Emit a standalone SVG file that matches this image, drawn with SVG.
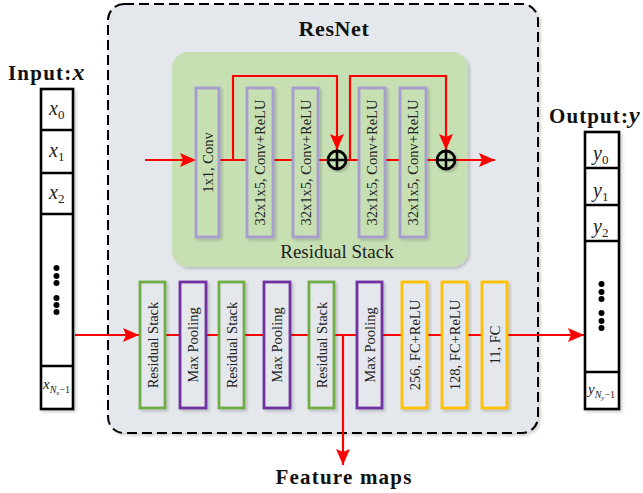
<svg xmlns="http://www.w3.org/2000/svg" width="643" height="493" viewBox="0 0 643 493">
<style>
.lbl{font-family:"Liberation Serif","Times New Roman",serif;font-size:14.5px;fill:#222;text-anchor:middle}
.title{font-family:"Liberation Serif","Times New Roman",serif;font-weight:bold;fill:#111}
.math{font-family:"Liberation Serif","Times New Roman",serif;font-style:italic;fill:#222}
.red{stroke:#ff0000;stroke-width:2.2;fill:none}
.vbox{stroke-width:2.8}
.lav{stroke:#a89bcf;fill:#c6e0b4}
.grn{stroke:#70ad47;fill:#e4e7eb}
.pur{stroke:#7030a0;fill:#e4e7eb}
.gld{stroke:#ffc000;fill:#e4e7eb}
.cell{fill:#fff;stroke:#000;stroke-width:2.6}
.div{stroke:#000;stroke-width:2.4}
</style>
<defs>
<marker id="ah" markerUnits="userSpaceOnUse" markerWidth="17" markerHeight="15" refX="16" refY="7" orient="auto">
<path d="M0,0 L16,7 L0,14 L3,7 z" fill="#ff0000"/>
</marker>
<filter id="sh" x="-10%" y="-10%" width="130%" height="130%">
<feDropShadow dx="2" dy="2" stdDeviation="1.8" flood-color="#000" flood-opacity="0.18"/>
</filter>
</defs>
<rect width="643" height="493" fill="#fff"/>

<g id="resnet">
<rect x="108" y="4" width="430" height="429" rx="16" fill="#e4e7eb" stroke="#000" stroke-width="2" stroke-dasharray="10,5" filter="url(#sh)"/>
<text class="title" x="334" y="36" font-size="22" letter-spacing="0.6" text-anchor="middle">ResNet</text>
</g>

<g id="residual-stack-detail">
<rect x="172" y="52" width="296" height="215" rx="16" fill="#c6e0b4" filter="url(#sh)"/>
<text x="337" y="258" font-family="'Liberation Serif','Times New Roman',serif" font-size="19" fill="#222" text-anchor="middle">Residual Stack</text>
</g>

<g id="connectors">
<line class="red" x1="145" y1="160" x2="196" y2="160" marker-end="url(#ah)"/>
<line class="red" x1="219" y1="160" x2="328" y2="160"/>
<line class="red" x1="346" y1="160" x2="437" y2="160"/>
<line class="red" x1="455" y1="160" x2="495" y2="160" marker-end="url(#ah)"/>
<polyline class="red" points="233,160 233,76 337,76 337,150" marker-end="url(#ah)"/>
<polyline class="red" points="350,160 350,76 446,76 446,150" marker-end="url(#ah)"/>
<line class="red" x1="75" y1="335" x2="139" y2="335" marker-end="url(#ah)"/>
<line class="red" x1="165" y1="335" x2="507" y2="335"/>
<line class="red" x1="507" y1="335" x2="584" y2="335" marker-end="url(#ah)"/>
<line class="red" x1="343" y1="335" x2="343" y2="465" marker-end="url(#ah)"/>
</g>

<g id="conv1x1"><rect class="vbox lav" x="196" y="88" width="23" height="149" filter="url(#sh)"/><text class="lbl" transform="translate(207.5,162.5) rotate(-90)" dy="0.35em">1x1, Conv</text></g>
<g id="conv2"><rect class="vbox lav" x="247" y="88" width="26" height="149" filter="url(#sh)"/><text class="lbl" transform="translate(260,162.5) rotate(-90)" dy="0.35em">32x1x5, Conv+ReLU</text></g>
<g id="conv3"><rect class="vbox lav" x="293" y="88" width="25" height="149" filter="url(#sh)"/><text class="lbl" transform="translate(305.5,162.5) rotate(-90)" dy="0.35em">32x1x5, Conv+ReLU</text></g>
<g id="conv4"><rect class="vbox lav" x="359" y="88" width="26" height="149" filter="url(#sh)"/><text class="lbl" transform="translate(372,162.5) rotate(-90)" dy="0.35em">32x1x5, Conv+ReLU</text></g>
<g id="conv5"><rect class="vbox lav" x="400" y="88" width="26" height="149" filter="url(#sh)"/><text class="lbl" transform="translate(413,162.5) rotate(-90)" dy="0.35em">32x1x5, Conv+ReLU</text></g>

<g id="add1"><circle cx="337" cy="160" r="9" fill="#c6e0b4" stroke="#000" stroke-width="2.8" filter="url(#sh)"/><path d="M328,160 H346 M337,151 V169" stroke="#000" stroke-width="2.6"/></g>
<g id="add2"><circle cx="446" cy="160" r="9" fill="#c6e0b4" stroke="#000" stroke-width="2.8" filter="url(#sh)"/><path d="M437,160 H455 M446,151 V169" stroke="#000" stroke-width="2.6"/></g>

<g id="rs1"><rect class="vbox grn" x="140" y="282" width="25" height="126" filter="url(#sh)"/><text class="lbl" transform="translate(152.5,345) rotate(-90)" dy="0.35em">Residual Stack</text></g>
<g id="mp1"><rect class="vbox pur" x="180" y="282" width="26" height="126" filter="url(#sh)"/><text class="lbl" transform="translate(193,345) rotate(-90)" dy="0.35em">Max Pooling</text></g>
<g id="rs2"><rect class="vbox grn" x="219" y="282" width="25" height="126" filter="url(#sh)"/><text class="lbl" transform="translate(231.5,345) rotate(-90)" dy="0.35em">Residual Stack</text></g>
<g id="mp2"><rect class="vbox pur" x="264" y="282" width="26" height="126" filter="url(#sh)"/><text class="lbl" transform="translate(277,345) rotate(-90)" dy="0.35em">Max Pooling</text></g>
<g id="rs3"><rect class="vbox grn" x="309" y="282" width="25" height="126" filter="url(#sh)"/><text class="lbl" transform="translate(321.5,345) rotate(-90)" dy="0.35em">Residual Stack</text></g>
<g id="mp3"><rect class="vbox pur" x="357" y="282" width="25" height="126" filter="url(#sh)"/><text class="lbl" transform="translate(369.5,345) rotate(-90)" dy="0.35em">Max Pooling</text></g>
<g id="fc1"><rect class="vbox gld" x="402" y="282" width="25" height="126" filter="url(#sh)"/><text class="lbl" transform="translate(414.5,345) rotate(-90)" dy="0.35em">256, FC+ReLU</text></g>
<g id="fc2"><rect class="vbox gld" x="442" y="282" width="25" height="126" filter="url(#sh)"/><text class="lbl" transform="translate(454.5,345) rotate(-90)" dy="0.35em">128, FC+ReLU</text></g>
<g id="fc3"><rect class="vbox gld" x="482" y="282" width="25" height="126" filter="url(#sh)"/><text class="lbl" transform="translate(494.5,345) rotate(-90)" dy="0.35em">11, FC</text></g>

<g id="input">
<text class="title" x="8" y="80" font-size="21" letter-spacing="1.2">Input:<tspan font-style="italic" font-size="24">x</tspan></text>
<rect class="cell" x="41" y="89" width="32" height="320" filter="url(#sh)"/>
<path class="div" d="M41,130 H73 M41,173 H73 M41,214 H73 M41,366 H73"/>
<text class="math" x="49" y="115" font-size="20">x<tspan font-style="normal" font-size="13" dy="4">0</tspan></text>
<text class="math" x="49" y="157" font-size="20">x<tspan font-style="normal" font-size="13" dy="4">1</tspan></text>
<text class="math" x="49" y="199" font-size="20">x<tspan font-style="normal" font-size="13" dy="4">2</tspan></text>
<g fill="#000"><circle cx="56.5" cy="268" r="3"/><circle cx="56.5" cy="276" r="3"/><circle cx="56.5" cy="283" r="3"/><circle cx="56.5" cy="298" r="3"/><circle cx="56.5" cy="305" r="3"/><circle cx="56.5" cy="312" r="3"/></g>
<text class="math" x="43" y="389" font-size="15">x<tspan font-size="10" dy="4">N</tspan><tspan font-size="7" dy="2">x</tspan><tspan font-style="normal" font-size="10" dy="-2">−1</tspan></text>
</g>

<g id="output">
<text class="title" x="549" y="123" font-size="21" letter-spacing="1.1">Output:<tspan font-style="italic" font-size="24">y</tspan></text>
<rect class="cell" x="585" y="132" width="34" height="277" filter="url(#sh)"/>
<path class="div" d="M585,168 H619 M585,205 H619 M585,241 H619 M585,372 H619"/>
<text class="math" x="593" y="160" font-size="20">y<tspan font-style="normal" font-size="13" dy="4">0</tspan></text>
<text class="math" x="593" y="197" font-size="20">y<tspan font-style="normal" font-size="13" dy="4">1</tspan></text>
<text class="math" x="593" y="233" font-size="20">y<tspan font-style="normal" font-size="13" dy="4">2</tspan></text>
<g fill="#000"><circle cx="601.5" cy="284" r="3"/><circle cx="601.5" cy="292" r="3"/><circle cx="601.5" cy="299" r="3"/><circle cx="601.5" cy="313" r="3"/><circle cx="601.5" cy="321" r="3"/><circle cx="601.5" cy="328" r="3"/></g>
<text class="math" x="588" y="394" font-size="15">y<tspan font-size="10" dy="4">N</tspan><tspan font-size="7" dy="2">y</tspan><tspan font-style="normal" font-size="10" dy="-2">−1</tspan></text>
</g>

<g id="feature-maps">
<text class="title" x="344" y="484" font-size="21" letter-spacing="1.2" text-anchor="middle">Feature maps</text>
</g>
</svg>
